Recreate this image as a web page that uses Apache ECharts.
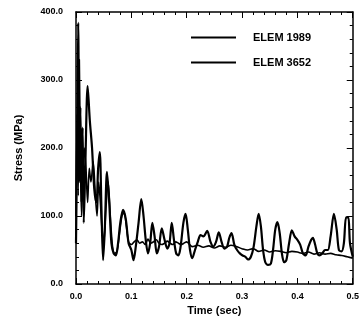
<!DOCTYPE html>
<html><head><meta charset="utf-8">
<script src="https://cdn.jsdelivr.net/npm/echarts@6/dist/echarts.min.js"></script>
<style>html,body{margin:0;padding:0;background:#fff}#c{width:362px;height:329px}</style>
</head><body><div id="c"></div>
<script>
var seriesNames = ['ELEM 1989', 'ELEM 3652'];
var xTicks = ['0.0','0.1','0.2','0.3','0.4','0.5'];
var yTicks = ['0.0','100.0','200.0','300.0','400.0'];

var timeA = [0.000,0.002,0.004,0.006,0.008,0.010,0.012,0.014,0.017,0.021,0.025,0.029,0.033,0.037,0.040,0.043,0.046,0.049,0.052,0.056,0.060,0.064,0.068,0.072,0.076,0.080,0.085,0.090,0.095,0.100,0.104,0.108,0.113,0.118,0.122,0.126,0.130,0.134,0.138,0.142,0.146,0.150,0.155,0.160,0.165,0.169,0.173,0.177,0.181,0.185,0.189,0.194,0.198,0.202,0.206,0.210,0.215,0.220,0.225,0.230,0.237,0.243,0.248,0.253,0.258,0.263,0.268,0.273,0.277,0.281,0.286,0.291,0.296,0.301,0.306,0.311,0.316,0.321,0.326,0.330,0.334,0.338,0.342,0.347,0.352,0.356,0.360,0.364,0.368,0.372,0.376,0.380,0.385,0.390,0.395,0.400,0.405,0.410,0.415,0.420,0.425,0.428,0.432,0.436,0.440,0.445,0.450,0.455,0.460,0.466,0.471,0.475,0.480,0.484,0.488,0.492,0.495,0.500];
var elem3652 = [60,200,384,150,260,120,230,90,180,291,240,200,140,120,170,194,110,35,80,165,120,60,45,42,60,90,109,95,60,50,35,55,90,125,100,65,45,60,90,70,45,55,82,65,52,60,90,65,45,42,55,90,103,80,50,38,50,62,72,70,78,62,55,62,76,62,52,55,68,75,58,50,45,42,40,36,40,55,85,103,85,50,32,28,30,50,80,91,75,45,32,35,60,79,70,65,58,45,42,55,65,68,58,45,42,45,50,50,70,103,80,50,48,60,98,98,60,40];

var timeB = [0.000,0.002,0.004,0.006,0.008,0.010,0.012,0.015,0.018,0.021,0.024,0.027,0.031,0.035,0.038,0.041,0.044,0.047,0.050,0.054,0.058,0.062,0.066,0.070,0.074,0.078,0.083,0.087,0.091,0.095,0.100,0.105,0.110,0.115,0.120,0.125,0.130,0.135,0.140,0.145,0.150,0.155,0.160,0.165,0.170,0.175,0.180,0.185,0.190,0.195,0.200,0.210,0.220,0.230,0.240,0.250,0.260,0.270,0.280,0.290,0.300,0.310,0.320,0.330,0.340,0.350,0.360,0.370,0.380,0.390,0.400,0.410,0.420,0.430,0.440,0.450,0.460,0.470,0.480,0.490,0.500];
var elem1989 = [100,250,130,330,180,100,150,200,170,120,170,150,180,130,100,150,120,80,60,110,150,100,55,45,48,70,100,105,85,62,58,62,65,60,62,58,66,60,62,65,60,58,60,63,60,58,62,60,58,60,62,55,57,54,56,53,56,54,57,55,52,50,52,48,50,47,49,48,46,48,47,45,47,44,46,44,45,43,42,40,38];

function pairs(t, v){ return t.map(function(x,i){ return [x, v[i]]; }); }

var font = "'Liberation Sans', Arial, sans-serif";
var chart = echarts.init(document.getElementById('c'), null, {renderer:'canvas'});
var tickCommon = {show:true, inside:true, length:6, lineStyle:{color:'#000', width:1}};
var minorCommon = {show:true, splitNumber:5, length:3, lineStyle:{color:'#000', width:1}};
chart.setOption({
  animation:false,
  backgroundColor:'#fff',
  grid:{left:76, right:7, top:12, bottom:45, show:false},
  legend:{
    orient:'vertical', left:186, top:26, itemWidth:45, itemHeight:2, itemGap:12, icon:'rect',
    data:seriesNames,
    textStyle:{fontFamily:font, fontWeight:'bold', fontSize:11, color:'#000', padding:[0,0,0,12], lineHeight:13}
  },
  xAxis:[{
    type:'value', min:0, max:0.5, interval:0.1, position:'bottom',
    name:'Time (sec)', nameLocation:'middle', nameGap:21,
    nameTextStyle:{fontFamily:font, fontWeight:'bold', fontSize:11, color:'#000'},
    axisLine:{show:true, onZero:false, lineStyle:{color:'#000', width:1.5}},
    axisTick:tickCommon, minorTick:minorCommon,
    axisLabel:{fontFamily:font, fontWeight:'bold', fontSize:9, color:'#000', margin:8,
      formatter:function(v){ return xTicks[Math.round(v*10)]; }},
    splitLine:{show:false}
  },{
    type:'value', min:0, max:0.5, interval:0.1, position:'top',
    axisLine:{show:true, onZero:false, lineStyle:{color:'#000', width:1.5}},
    axisTick:tickCommon, minorTick:minorCommon, axisLabel:{show:false}, splitLine:{show:false}
  }],
  yAxis:[{
    type:'value', min:0, max:400, interval:100, position:'left',
    name:'Stress (MPa)', nameLocation:'middle', nameGap:52,
    nameTextStyle:{fontFamily:font, fontWeight:'bold', fontSize:11, color:'#000'},
    axisLine:{show:true, onZero:false, lineStyle:{color:'#000', width:1.5}},
    axisTick:tickCommon, minorTick:minorCommon,
    axisLabel:{fontFamily:font, fontWeight:'bold', fontSize:9, color:'#000', margin:13,
      formatter:function(v){ return yTicks[Math.round(v/100)]; }},
    splitLine:{show:false}
  },{
    type:'value', min:0, max:400, interval:100, position:'right',
    axisLine:{show:true, onZero:false, lineStyle:{color:'#000', width:1.5}},
    axisTick:tickCommon, minorTick:minorCommon, axisLabel:{show:false}, splitLine:{show:false}
  }],
  series:[{
    name:seriesNames[0], type:'line', symbol:'none', smooth:0.3,
    data:pairs(timeB, elem1989), lineStyle:{color:'#000', width:1.6}, itemStyle:{color:'#000'}
  },{
    name:seriesNames[1], type:'line', symbol:'none', smooth:0.3,
    data:pairs(timeA, elem3652), lineStyle:{color:'#000', width:2.2}, itemStyle:{color:'#000'}
  }]
});
</script></body></html>
